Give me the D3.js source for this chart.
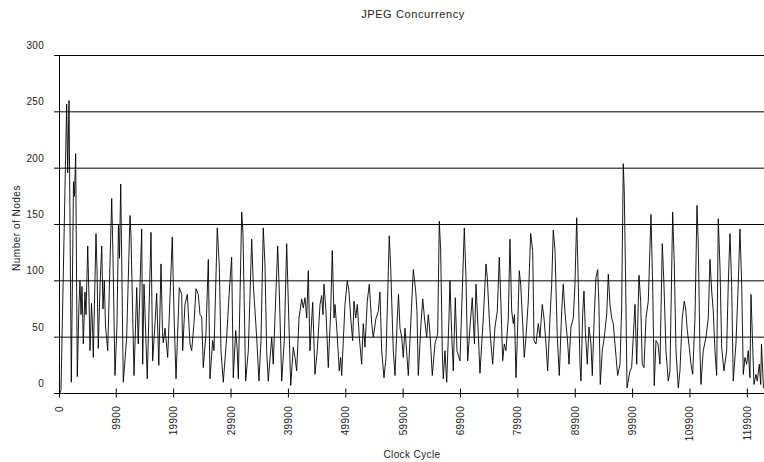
<!DOCTYPE html>
<html>
<head>
<meta charset="utf-8">
<script src="https://cdn.jsdelivr.net/npm/d3@7"></script>
<style>
  body { margin: 0; background: #fff; }
  text { font-family: "Liberation Sans", Arial, sans-serif; fill: #222; }
</style>
</head>
<body>
<div id="chart"></div>
<script>
// data: turning points of the concurrency trace
var cycles = [
  0, 260, 1250, 1430, 1660, 2060, 2440, 2610, 2820, 3100, 3400, 3570, 3750, 3920, 4150, 4440, 4620, 4920, 5140, 5320,
  5580, 5750, 5890, 6360, 6540, 6760, 7060, 7360, 7580, 7810, 8020, 8400, 9100, 9330, 9670, 10020, 10280, 10460, 10670, 11120,
  11420, 11710, 12290, 12460, 12990, 13460, 13730, 14330, 14500, 14730, 15300, 15950, 16240, 16650, 16940, 17310, 17690, 17950, 18090, 18390,
  18860, 19660, 19840, 20010, 20310, 20880, 21300, 21470, 21870, 22280, 22750, 23040, 23440, 23790, 24190, 24490, 24790, 25060, 25530, 25940,
  26230, 26700, 26930, 27500, 27850, 28150, 28550, 29140, 29600, 30010, 30290, 30710, 30990, 31170, 31760, 31980, 32450, 32910, 33500, 33780,
  34370, 34770, 35120, 35520, 35820, 36110, 36390, 36990, 37260, 38030, 38310, 38730, 39180, 39600, 39880, 40300, 40750, 41050, 41340, 41750,
  42220, 42490, 42790, 43090, 43370, 43660, 44130, 44530, 44930, 45410, 45700, 45930, 46100, 46450, 46850, 47270, 47550, 47850, 48020, 48320,
  48770, 49010, 49190, 49760, 50160, 50460, 50760, 51100, 51330, 51630, 51910, 52260, 52670, 52950, 53250, 53650, 54000, 54420, 54700, 55170,
  55570, 55860, 56160, 56560, 56910, 57260, 57480, 57730, 58180, 58480, 58880, 59090, 59350, 59650, 59920, 60220, 60800, 61270, 61670, 62090,
  62310, 62540, 63010, 63310, 63620, 64000, 64280, 64490, 64750, 64980, 65450, 65920, 66200, 66440, 66720, 66900, 67190, 67490, 67890, 68060,
  68360, 68640, 68990, 69280, 69810, 70210, 70560, 70850, 71150, 71550, 71950, 72330, 72600, 73000, 73290, 73870, 74340, 74570, 74910, 75160,
  75510, 75910, 76310, 76660, 76950, 77250, 77530, 77820, 78230, 78520, 78820, 79100, 79310, 79570, 79790, 80140, 80390, 80740, 81010, 81310,
  81710, 82130, 82480, 82710, 83050, 83460, 83750, 84150, 84450, 84800, 85090, 85490, 85790, 86070, 86370, 86770, 87120, 87530, 87810, 88110,
  88580, 88810, 89150, 89560, 89850, 90150, 90430, 90720, 90900, 91190, 91420, 91680, 92000, 92290, 92640, 92870, 93220, 93510, 93810, 94030,
  94260, 94610, 94960, 95380, 95660, 95950, 96250, 96530, 96820, 97290, 97700, 97990, 98270, 98440, 98690, 98920, 99440, 99730, 100010, 100310,
  100610, 101010, 101300, 101580, 101880, 102230, 102630, 103100, 103390, 103670, 103970, 104320, 104670, 105070, 105360, 105710, 106110, 106410, 106880, 107160,
  107460, 107860, 108150, 108550, 108900, 109150, 109430, 109770, 110070, 110370, 110770, 111120, 111340, 111640, 111810, 112210, 112690, 113090, 113380, 113680,
  113960, 114250, 114550, 114830, 115130, 115420, 115820, 116290, 116570, 116870, 117160, 117440, 117910, 118310, 118610, 118910, 119190, 119480, 119780, 120060,
  120350, 120530, 120760, 121050, 121400, 121630, 121980, 122220, 122360, 122710
];
var nodeCounts = [
  0, 3, 257, 196, 260, 10, 188, 175, 213, 15, 80, 100, 70, 95, 44, 90, 70, 131, 85, 38,
  80, 60, 32, 142, 110, 40, 95, 131, 75, 100, 60, 38, 173, 120, 16, 60, 150, 120, 186, 10,
  30, 50, 158, 140, 16, 94, 44, 146, 26, 97, 13, 143, 29, 62, 89, 25, 115, 55, 45, 58,
  32, 139, 97, 62, 13, 94, 88, 38, 79, 88, 44, 38, 62, 93, 88, 70, 68, 23, 53, 119,
  13, 47, 38, 147, 114, 38, 10, 50, 91, 121, 14, 56, 38, 13, 161, 142, 11, 38, 137, 97,
  50, 11, 47, 147, 114, 38, 11, 50, 26, 131, 91, 11, 47, 133, 82, 7, 41, 32, 20, 67,
  84, 76, 85, 67, 109, 38, 81, 17, 38, 79, 87, 70, 97, 73, 23, 73, 127, 67, 79, 59,
  20, 32, 16, 79, 100, 91, 67, 47, 82, 67, 79, 50, 26, 62, 41, 82, 97, 62, 50, 67,
  73, 90, 38, 14, 32, 97, 140, 112, 38, 16, 67, 88, 58, 50, 32, 58, 16, 67, 110, 91,
  73, 16, 62, 84, 67, 50, 70, 59, 38, 16, 44, 53, 153, 127, 38, 13, 38, 10, 67, 100,
  53, 20, 85, 38, 29, 91, 147, 103, 29, 59, 85, 44, 97, 53, 18, 67, 115, 103, 67, 47,
  26, 59, 73, 121, 79, 29, 44, 38, 67, 137, 73, 62, 70, 14, 47, 109, 97, 62, 32, 50,
  82, 142, 127, 47, 44, 62, 50, 79, 67, 44, 20, 67, 97, 145, 127, 50, 16, 73, 97, 72,
  45, 26, 59, 67, 97, 156, 97, 26, 11, 70, 91, 53, 26, 59, 44, 16, 70, 103, 110, 79,
  8, 38, 50, 70, 106, 79, 67, 62, 44, 16, 26, 76, 204, 180, 97, 5, 20, 23, 50, 79,
  26, 105, 82, 26, 23, 67, 82, 159, 97, 7, 47, 44, 26, 133, 97, 38, 11, 20, 161, 115,
  38, 5, 20, 67, 82, 75, 56, 41, 26, 17, 67, 167, 133, 38, 8, 38, 50, 67, 119, 91,
  73, 38, 16, 155, 112, 41, 20, 38, 97, 142, 97, 11, 44, 97, 146, 97, 17, 32, 26, 38,
  14, 88, 53, 8, 17, 11, 26, 8, 44, 5
];
var yTicks = [0, 50, 100, 150, 200, 250, 300];
var xTicks = [0, 9900, 19900, 29900, 39900, 49900, 59900, 69900, 79900, 89900, 99900, 109900, 119900];
var xMax = 122800;

var series = cycles.map(function (c, i) { return {x: c, y: nodeCounts[i]}; });

var width = 764, height = 462;
var plotLeft = 59.5, plotRight = 764, plotTop = 55.5, plotBottom = 393.5;

var svg = d3.select("#chart")
  .append("svg")
  .attr("width", width)
  .attr("height", height);

svg.append("rect").attr("width", width).attr("height", height).attr("fill", "#fff");

var x = d3.scaleLinear().domain([0, xMax]).range([plotLeft, plotRight]);
var y = d3.scaleLinear().domain([0, 300]).range([plotBottom, plotTop]);

// horizontal gridlines (run a bit left of the axis like ticks)
svg.selectAll(".grid")
  .data(yTicks)
  .enter()
  .append("line")
  .attr("x1", plotLeft - 5.5)
  .attr("x2", plotRight)
  .attr("y1", function (d) { return y(d); })
  .attr("y2", function (d) { return y(d); })
  .style("stroke", "#000")
  .style("stroke-width", 1);

// y labels sit above their gridline
svg.selectAll(".ylab")
  .data(yTicks)
  .enter()
  .append("text")
  .attr("x", 44)
  .attr("y", function (d) { return y(d) - 6.5; })
  .style("text-anchor", "end")
  .style("font-size", "10px")
  .style("letter-spacing", "0.3px")
  .text(function (d) { return d; });

// the trace
var line = d3.line()
  .x(function (d) { return x(d.x); })
  .y(function (d) { return y(d.y); });

svg.append("path")
  .datum(series)
  .attr("d", line)
  .style("fill", "none")
  .style("stroke", "#000")
  .style("stroke-width", 0.9);

// axes
svg.append("line")
  .attr("x1", plotLeft).attr("x2", plotLeft)
  .attr("y1", plotTop).attr("y2", plotBottom)
  .style("stroke", "#000");

svg.selectAll(".xtick")
  .data(xTicks)
  .enter()
  .append("line")
  .attr("x1", function (d) { return x(d); })
  .attr("x2", function (d) { return x(d); })
  .attr("y1", plotBottom - 5)
  .attr("y2", plotBottom + 4)
  .style("stroke", "#000");

svg.selectAll(".xlab")
  .data(xTicks)
  .enter()
  .append("text")
  .attr("transform", function (d) { return "translate(" + x(d) + ",406) rotate(-90)"; })
  .attr("dy", "0.35em")
  .style("text-anchor", "end")
  .style("font-size", "10px")
  .style("letter-spacing", "0.3px")
  .text(function (d) { return d; });

// titles
svg.append("text")
  .attr("x", 413)
  .attr("y", 18)
  .style("text-anchor", "middle")
  .style("font-size", "11px")
  .style("letter-spacing", "0.6px")
  .text("JPEG Concurrency");

svg.append("text")
  .attr("transform", "translate(20,228) rotate(-90)")
  .style("text-anchor", "middle")
  .style("font-size", "10px")
  .style("letter-spacing", "0.5px")
  .text("Number of Nodes");

svg.append("text")
  .attr("x", 412)
  .attr("y", 458)
  .style("text-anchor", "middle")
  .style("font-size", "10px")
  .style("letter-spacing", "0.4px")
  .text("Clock Cycle");
</script>
</body>
</html>
